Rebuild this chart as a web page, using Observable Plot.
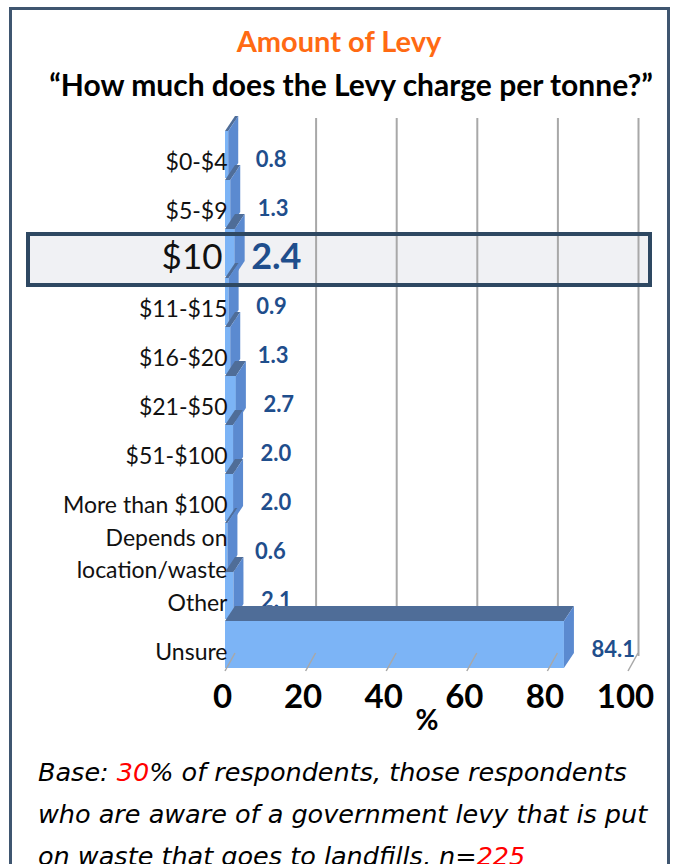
<!DOCTYPE html>
<html>
<head>
<meta charset="utf-8">
<script src="https://cdn.jsdelivr.net/npm/d3@7"></script>
<script src="https://cdn.jsdelivr.net/npm/@observablehq/plot@0.6"></script>
<style>
  html, body { margin: 0; padding: 0; background: #fff; }
  body { width: 678px; height: 864px; overflow: hidden; position: relative; font-family: Lato, "Open Sans", sans-serif; }
  #frame { position: absolute; left: 9px; top: 7px; width: 661px; height: 900px; border: 3px solid #3f5670; box-sizing: border-box; }
  .title { position: absolute; left: 0; width: 678px; text-align: center; font-weight: bold; white-space: nowrap; }
  #t1 { top: 24px; font-size: 29px; line-height: 34px; color: #ff6a13; }
  #t2 { top: 66px; font-size: 30px; line-height: 36px; color: #000; left: 12px; }
  #chart { position: absolute; left: 0; top: 105px; }
  #caption { position: absolute; left: 38px; top: 751px; width: 640px; font-family: "DejaVu Sans", sans-serif; font-style: italic; font-size: 25.5px; line-height: 42px; color: #000; white-space: nowrap; }
  #caption .red { color: #ff0000; }
</style>
</head>
<body>
<div id="frame"></div>
<div class="title" id="t1">Amount of Levy</div>
<div class="title" id="t2">“How much does the Levy charge per tonne?”</div>
<div id="chart"></div>
<div id="caption">
  <div>Base: <span class="red">30</span>% of respondents, those respondents</div>
  <div>who are aware of a government levy that is put</div>
  <div>on waste that goes to landfills, n=<span class="red">225</span></div>
</div>
<script>
const categories = ["$0-$4", "$5-$9", "$10", "$11-$15", "$16-$20", "$21-$50", "$51-$100", "More than $100", "Depends on\nlocation/waste", "Other", "Unsure"];
const values = [0.8, 1.3, 2.4, 0.9, 1.3, 2.7, 2.0, 2.0, 0.6, 2.1, 84.1];
const xTicks = [0, 20, 40, 60, 80, 100];
const highlighted = "$10";

const data = categories.map((c, i) => ({cat: c, value: values[i], hl: c === highlighted}));
const normal = data.filter(d => !d.hl);
const special = data.filter(d => d.hl);

const DX = 10, DY = -15;
const FRONT = "#7cb4f6", TOP = "#4f6d98", SIDE = "#5b8ad0";
const VALUE_COLOR = "#1f4e8c";

const plot = Plot.plot({
  width: 678,
  height: 640,
  marginLeft: 225,
  marginRight: 50,
  marginTop: 23,
  marginBottom: 74,
  style: {fontFamily: "Lato, 'Open Sans', sans-serif", background: "transparent", overflow: "visible"},
  x: {domain: [0, 100], ticks: xTicks},
  y: {domain: categories, paddingInner: 0.05, paddingOuter: 0, axis: null},
  marks: [
    Plot.ruleX(xTicks, {stroke: "#a8a8a8", strokeWidth: 2, dx: DX, dy: DY, insetTop: 5}),
    Plot.barX(data, {x: "value", y: "cat", fill: FRONT}),
    Plot.text(normal, {x: 0, y: "cat", text: "cat", textAnchor: "end", dx: 2, dy: 4.5, fill: "#111", lineHeight: 1.43, fontSize: 23}),
    Plot.text(special, {x: 0, y: "cat", text: "cat", textAnchor: "end", dx: -3, dy: 4.5, fill: "#111", fontSize: 35}),
    Plot.text(normal, {x: "value", y: "cat", text: d => d.value.toFixed(1), textAnchor: "start", dx: 27, dy: 4.5, fill: VALUE_COLOR, fontWeight: "bold", fontSize: 22}),
    Plot.text(special, {x: "value", y: "cat", text: d => d.value.toFixed(1), textAnchor: "start", dx: 16, dy: 4.5, fill: VALUE_COLOR, fontWeight: "bold", fontSize: 36}),
    Plot.axisX({ticks: xTicks, tickSize: 0, tickPadding: 13, dx: -3, fontSize: 33, fontWeight: "bold", fill: "#000", label: null}),
    Plot.text(["%"], {text: d => d, frameAnchor: "bottom", dy: 58, fontSize: 28, fontWeight: "bold", fill: "#000"})
  ]
});

document.getElementById("chart").appendChild(plot);

const svg = d3.select(plot);
const xs = plot.scale("x"), ys = plot.scale("y");
const bw = ys.bandwidth;
const x0 = xs.apply(0);
const yBottom = ys.apply(categories[categories.length - 1]) + bw;

// highlight background (behind everything)
const hy = ys.apply(highlighted);
const firstMark = plot.querySelector("g");
svg.insert("rect", () => firstMark)
  .attr("x", 28).attr("y", hy + 5).attr("width", 622).attr("height", 51)
  .attr("fill", "#f0f1f4");

// floor lines at ticks
const floor = svg.append("g").attr("stroke", "#a8a8a8").attr("stroke-width", 1.5);
xTicks.forEach(t => {
  const xp = xs.apply(t);
  floor.append("line").attr("x1", xp).attr("y1", yBottom + 3).attr("x2", xp + DX).attr("y2", yBottom + DY);
});

// 3D faces, drawn top to bottom
const faces = svg.append("g");
data.forEach(d => {
  const y0 = ys.apply(d.cat), y1 = y0 + bw;
  const xv = xs.apply(d.value);
  faces.append("polygon")
    .attr("points", [[x0, y0], [xv, y0], [xv + DX, y0 + DY], [x0 + DX, y0 + DY]].map(p => p.join(",")).join(" "))
    .attr("fill", TOP);
  faces.append("polygon")
    .attr("points", [[xv, y0], [xv + DX, y0 + DY], [xv + DX, y1 + DY], [xv, y1]].map(p => p.join(",")).join(" "))
    .attr("fill", SIDE);
});

// highlight frame on top
svg.append("rect")
  .attr("x", 28).attr("y", hy + 5).attr("width", 622).attr("height", 51)
  .attr("fill", "none").attr("stroke", "#2e4862").attr("stroke-width", 4);
</script>
</body>
</html>
